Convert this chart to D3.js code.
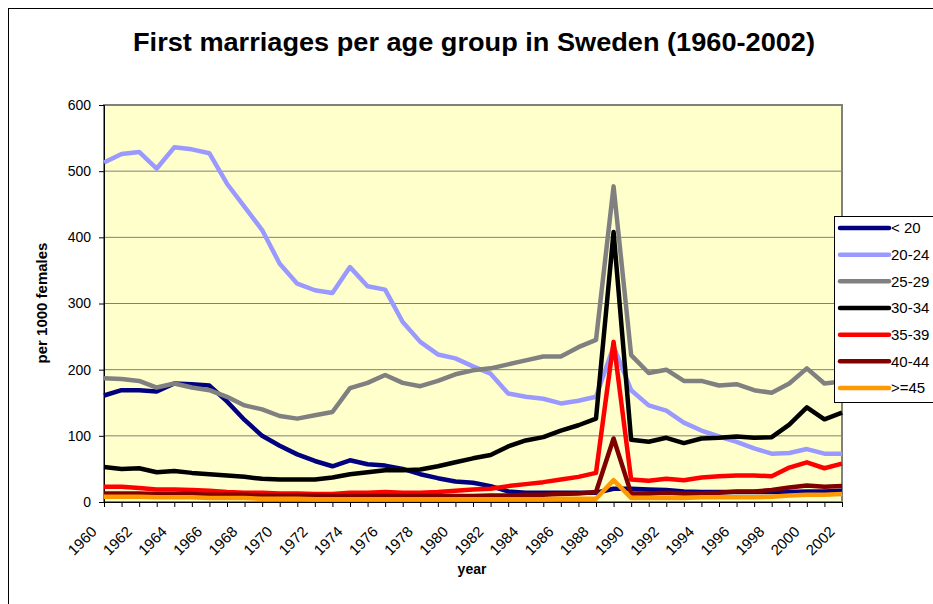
<!DOCTYPE html>
<html>
<head>
<meta charset="utf-8">
<script src="https://cdn.jsdelivr.net/npm/d3@7"></script>
<style>
  body { margin: 0; background: #fff; }
  svg { display: block; font-family: "Liberation Sans", Arial, sans-serif; }
</style>
</head>
<body>
<div id="chart"></div>
<script>
// first marriages per 1000 females, Sweden
const years = d3.range(1960, 2003);
const groups = ["< 20", "20-24", "25-29", "30-34", "35-39", "40-44", ">=45"];
const colors = ["#000080", "#9999FF", "#808080", "#000000", "#FF0000", "#800000", "#FF9900"];

const under20 = [161, 169, 169, 167, 179, 178, 176, 152, 124, 100, 85, 72, 62, 54, 63, 57, 55, 50, 42, 36, 31, 29, 24, 16, 14, 14, 14, 14, 14, 20, 20, 19, 18, 16, 15, 15, 15, 15, 15, 15, 16, 16, 17];
const age2024 = [513, 526, 529, 504, 536, 533, 527, 481, 446, 411, 360, 330, 320, 316, 355, 326, 321, 272, 242, 223, 217, 205, 194, 164, 159, 156, 149, 153, 159, 235, 169, 146, 138, 120, 108, 99, 91, 81, 73, 74, 80, 73, 73];
const age2529 = [187, 186, 183, 173, 179, 173, 169, 159, 146, 140, 130, 126, 131, 136, 172, 180, 192, 180, 175, 183, 193, 199, 202, 208, 214, 220, 220, 234, 245, 477, 222, 195, 200, 183, 183, 176, 178, 169, 165, 179, 202, 179, 182];
const age3034 = [53, 50, 51, 45, 47, 44, 42, 40, 38, 35, 34, 34, 34, 37, 42, 45, 48, 48, 49, 54, 60, 66, 71, 84, 93, 98, 108, 116, 126, 408, 94, 91, 97, 89, 96, 97, 99, 97, 98, 117, 143, 125, 135];
const age3539 = [23, 23, 21, 19, 19, 18, 17, 15, 14, 14, 13, 13, 12, 12, 14, 14, 15, 14, 14, 15, 17, 19, 20, 24, 27, 30, 34, 38, 44, 242, 34, 32, 35, 33, 37, 39, 40, 40, 39, 52, 60, 51, 58];
const age4044 = [13, 13, 13, 12, 12, 12, 11, 11, 11, 10, 10, 10, 10, 9, 9, 9, 9, 9, 9, 9, 9, 9, 10, 10, 11, 11, 12, 13, 15, 96, 13, 13, 14, 13, 13, 14, 16, 16, 18, 22, 25, 23, 24];
const age45plus = [8, 8, 8, 7, 7, 7, 6, 6, 6, 5, 5, 5, 4, 4, 4, 4, 4, 4, 4, 4, 4, 4, 4, 4, 4, 4, 5, 5, 5, 33, 6, 6, 6, 6, 7, 7, 7, 7, 8, 10, 11, 11, 12];

const yTicks = [0, 100, 200, 300, 400, 500, 600];

const series = [under20, age2024, age2529, age3034, age3539, age4044, age45plus];

const width = 933,
      height = 604,
      margin = ({ top: 105, right: 91, bottom: 102, left: 104 });

let svg = d3.select("#chart")
    .append("svg")
    .attr("width", width)
    .attr("height", height);

// outer chart border (runs off the right and bottom edges)
svg.append("rect")
    .attr("x", 8.5).attr("y", 8.5)
    .attr("width", 1000).attr("height", 1000)
    .attr("fill", "#fff")
    .attr("stroke", "#000");

let x = d3.scaleLinear()
    .domain([1960, 2002])
    .range([margin.left, width - margin.right]);

let y = d3.scaleLinear()
    .domain([0, 600])
    .range([height - margin.bottom, margin.top]);

// plot area
svg.append("rect")
    .attr("x", x(1960)).attr("y", y(600))
    .attr("width", x(2002) - x(1960))
    .attr("height", y(0) - y(600))
    .attr("fill", "#FFFFCC")
    .attr("stroke", "#808080")
    .attr("stroke-width", 2);

// gridlines
svg.append("g")
    .selectAll("line")
    .data(yTicks.filter(d => d > 0 && d < 600))
    .join("line")
    .attr("x1", x(1960)).attr("x2", x(2002))
    .attr("y1", d => y(d)).attr("y2", d => y(d))
    .attr("stroke", "#808080")
    .attr("stroke-width", 1);

// y axis
let yAxis = svg.append("g")
    .attr("transform", `translate(${x(1960)},0)`)
    .call(d3.axisLeft(y).tickValues(yTicks).tickSize(5).tickPadding(8));
yAxis.select(".domain").attr("stroke", "#000");
yAxis.selectAll("text")
    .style("font-size", "14px")
    .style("font-family", "'Liberation Sans', Arial, sans-serif")
    .attr("fill", "#000");

// x axis, tick every year, label every 2nd
let xAxis = svg.append("g")
    .attr("transform", `translate(0,${y(0)})`)
    .call(d3.axisBottom(x).tickValues(years).tickSize(5).tickFormat(""));
xAxis.select(".domain").attr("stroke", "#000");

svg.append("g")
    .selectAll("text")
    .data(years.filter(d => d % 2 === 0))
    .join("text")
    .attr("transform", d => `translate(${x(d) - 10},${y(0) + 27}) rotate(-45)`)
    .attr("text-anchor", "end")
    .attr("dy", "0.35em")
    .style("font-size", "15px")
    .text(d => d);

// lines
let line = d3.line()
    .x((d, i) => x(years[i]))
    .y(d => y(d));

svg.append("g")
    .selectAll("path")
    .data(series)
    .join("path")
    .attr("d", line)
    .attr("fill", "none")
    .attr("stroke", (d, i) => colors[i])
    .attr("stroke-width", 4.5)
    .attr("stroke-linejoin", "round");

// title
svg.append("text")
    .attr("x", 474)
    .attr("y", 51)
    .attr("text-anchor", "middle")
    .attr("textLength", 682)
    .attr("lengthAdjust", "spacingAndGlyphs")
    .style("font-size", "26px")
    .style("font-weight", "bold")
    .text("First marriages per age group in Sweden (1960-2002)");

// axis labels
svg.append("text")
    .attr("x", 472)
    .attr("y", 574)
    .attr("text-anchor", "middle")
    .style("font-size", "14px")
    .style("font-weight", "bold")
    .text("year");

svg.append("text")
    .attr("transform", "translate(47,303) rotate(-90)")
    .attr("text-anchor", "middle")
    .style("font-size", "15px")
    .style("font-weight", "bold")
    .text("per 1000 females");

// legend
let legend = svg.append("g")
    .attr("transform", "translate(834,216)");

legend.append("rect")
    .attr("x", 0.5).attr("y", 0.5)
    .attr("width", 120).attr("height", 186)
    .attr("fill", "#fff")
    .attr("stroke", "#000");

let item = legend.selectAll(".item")
    .data(groups)
    .join("g")
    .attr("class", "item")
    .attr("transform", (d, i) => `translate(0,${12 + i * 26.67})`);

item.append("line")
    .attr("x1", 6).attr("x2", 55)
    .attr("stroke", (d, i) => colors[i])
    .attr("stroke-width", 4.5)
    .attr("stroke-linecap", "round");

item.append("text")
    .attr("x", 57)
    .attr("dy", "0.35em")
    .style("font-size", "15px")
    .text(d => d);
</script>
</body>
</html>
